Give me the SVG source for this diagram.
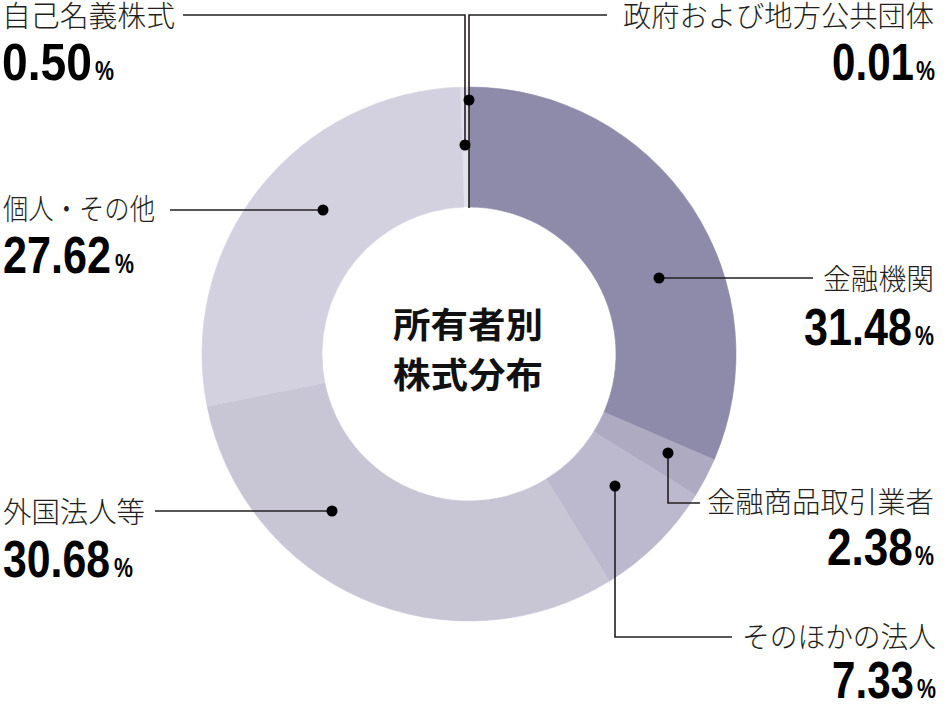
<svg xmlns="http://www.w3.org/2000/svg" width="945" height="709" viewBox="0 0 945 709">
<style>
.lbl{font-family:"Noto Sans CJK JP","Noto Sans",sans-serif;font-size:29px;font-weight:300;fill:#231f20}
.num{font-family:"Liberation Sans",Arial,sans-serif;font-size:51px;font-weight:bold;fill:#000}
.pct{font-family:"Liberation Sans",Arial,sans-serif;font-size:27px;font-weight:bold;fill:#000}
.ttl{font-family:"Noto Sans CJK JP","Noto Sans",sans-serif;font-size:35px;font-weight:bold;fill:#111}
.ld{fill:none;stroke:#231f20;stroke-width:1.6}
.dot{fill:#000}
</style>
<rect width="945" height="709" fill="#fff"/>
<g id="donut">
<path id="seg-kinyu" d="M469,87 A267,267 0 0 1 714.19,459.73 L603.99,412.21 A147,147 0 0 0 469,207 Z" fill="#8e8aa9" stroke="#8e8aa9" stroke-width="0.6"/>
<path id="seg-shoken" d="M714.19,459.73 A267,267 0 0 1 695.70,495.05 L593.81,431.66 A147,147 0 0 0 603.99,412.21 Z" fill="#aeaac1" stroke="#aeaac1" stroke-width="0.6"/>
<path id="seg-hojin" d="M695.70,495.05 A267,267 0 0 1 609.38,581.12 L546.29,479.04 A147,147 0 0 0 593.81,431.66 Z" fill="#bcb8cd" stroke="#bcb8cd" stroke-width="0.6"/>
<path id="seg-gaikoku" d="M609.38,581.12 A267,267 0 0 1 207.15,406.17 L324.83,382.72 A147,147 0 0 0 546.29,479.04 Z" fill="#c8c5d5" stroke="#c8c5d5" stroke-width="0.6"/>
<path id="seg-kojin" d="M207.15,406.17 A267,267 0 0 1 460.45,87.14 L464.29,207.07 A147,147 0 0 0 324.83,382.72 Z" fill="#d3d0df" stroke="#d3d0df" stroke-width="0.6"/>
<path id="seg-jiko" d="M460.45,87.14 A267,267 0 0 1 468.83,87 L468.91,207 A147,147 0 0 0 464.29,207.07 Z" fill="#e2e0ea"/>
</g>
<g id="title">
<text class="ttl" x="468" y="338" text-anchor="middle" textLength="150" lengthAdjust="spacingAndGlyphs">所有者別</text>
<text class="ttl" x="468" y="388" text-anchor="middle" textLength="150" lengthAdjust="spacingAndGlyphs">株式分布</text>
</g>
<g id="connectors">
<path class="ld" d="M183,15 H465 V145"/>
<path class="ld" d="M607,15 H469 V208"/>
<path class="ld" d="M170,210 H323"/>
<path class="ld" d="M813,278 H659"/>
<path class="ld" d="M155,511 H332"/>
<path class="ld" d="M700,503 H668 V453"/>
<path class="ld" d="M732,637 H615 V486"/>
<circle class="dot" cx="465" cy="145" r="5.5"/>
<circle class="dot" cx="469" cy="100" r="5.5"/>
<circle class="dot" cx="323" cy="210" r="5.5"/>
<circle class="dot" cx="659" cy="278" r="5.5"/>
<circle class="dot" cx="332" cy="511" r="5.5"/>
<circle class="dot" cx="668" cy="453" r="5.5"/>
<circle class="dot" cx="615" cy="486" r="5.5"/>
</g>
<g id="node-jiko">
<text class="lbl" x="2" y="27" textLength="173" lengthAdjust="spacingAndGlyphs">自己名義株式</text>
<text class="num" transform="translate(2,80) scale(0.906,1)">0.50</text>
<text class="pct" transform="translate(95,80) scale(0.79,1)">%</text>
</g>
<g id="node-seifu">
<text class="lbl" x="934" y="27" text-anchor="end" textLength="311" lengthAdjust="spacingAndGlyphs">政府および地方公共団体</text>
<text class="num" transform="translate(832,80) scale(0.826,1)">0.01</text>
<text class="pct" transform="translate(916,80) scale(0.79,1)">%</text>
</g>
<g id="node-kojin">
<text class="lbl" x="3" y="220" textLength="152" lengthAdjust="spacingAndGlyphs">個人・その他</text>
<text class="num" transform="translate(3,273) scale(0.846,1)">27.62</text>
<text class="pct" transform="translate(115,273) scale(0.79,1)">%</text>
</g>
<g id="node-kinyu">
<text class="lbl" x="934" y="290" text-anchor="end" textLength="111" lengthAdjust="spacingAndGlyphs">金融機関</text>
<text class="num" transform="translate(804,345) scale(0.846,1)">31.48</text>
<text class="pct" transform="translate(915,345) scale(0.79,1)">%</text>
</g>
<g id="node-gaikoku">
<text class="lbl" x="3" y="523" textLength="142" lengthAdjust="spacingAndGlyphs">外国法人等</text>
<text class="num" transform="translate(3,577) scale(0.839,1)">30.68</text>
<text class="pct" transform="translate(114,577) scale(0.79,1)">%</text>
</g>
<g id="node-shoken">
<text class="lbl" x="934" y="513" text-anchor="end" textLength="227" lengthAdjust="spacingAndGlyphs">金融商品取引業者</text>
<text class="num" transform="translate(827,565) scale(0.866,1)">2.38</text>
<text class="pct" transform="translate(915,565) scale(0.79,1)">%</text>
</g>
<g id="node-hojin">
<text class="lbl" x="936" y="648" text-anchor="end" textLength="194" lengthAdjust="spacingAndGlyphs">そのほかの法人</text>
<text class="num" transform="translate(832,698) scale(0.826,1)">7.33</text>
<text class="pct" transform="translate(917,698) scale(0.79,1)">%</text>
</g>
</svg>
